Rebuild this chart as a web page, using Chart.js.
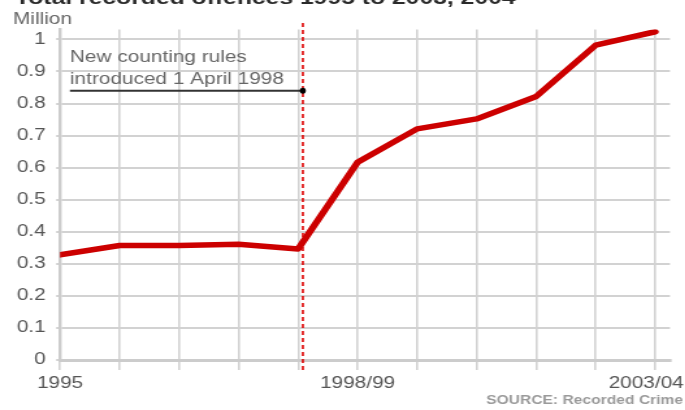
<!DOCTYPE html>
<html>
<head>
<meta charset="utf-8">
<script src="https://cdn.jsdelivr.net/npm/chart.js@4/dist/chart.umd.min.js"></script>
<style>
  html, body { margin: 0; padding: 0; background: #ffffff; overflow: hidden; }
  #wrap { width: 527px; height: 410px; transform: scaleX(1.3); transform-origin: 0 0; }
  canvas { display: block; }
</style>
</head>
<body>
<div id="wrap"><canvas id="c" width="527" height="410"></canvas></div>
<script>
// ---- data ----
const tickLabels = ['1995', '', '', '', '', '1998/99', '', '', '', '', '2003/04'];
const offences = [0.328, 0.357, 0.357, 0.361, 0.346, 0.617, 0.721, 0.752, 0.822, 0.982, 1.024];
const yTickValues = [0, 0.1, 0.2, 0.3, 0.4, 0.5, 0.6, 0.7, 0.8, 0.9, 1];
const titleText = 'Total recorded offences 1995 to 2003, 2004';
const unitText = 'Million';
const noteLines = ['New counting rules', 'introduced 1 April 1998'];
const sourceText = 'SOURCE: Recorded Crime';
const ruleChangeX = 4.08;   // 1 April 1998 on the period axis
const noteY = 0.84;

const FONT = '"Liberation Sans", Arial, Helvetica, sans-serif';
const GRID = '#d2d2d2';
const TEXT = '#555555';

const decor = {
  id: 'decor',
  beforeDatasetsDraw(chart) {
    const ctx = chart.ctx;
    const xs = chart.scales.x;
    const x = xs.getPixelForValue(ruleChangeX);
    ctx.save();
    ctx.strokeStyle = '#dd0000';
    ctx.lineWidth = 1.6;
    ctx.setLineDash([4, 3]);
    ctx.beginPath();
    ctx.moveTo(x, 23);
    ctx.lineTo(x, 372);
    ctx.stroke();
    ctx.restore();
  },
  afterDraw(chart) {
    const ctx = chart.ctx;
    const xs = chart.scales.x, ys = chart.scales.y;
    ctx.save();
    // title (clipped at top like the reference)
    ctx.fillStyle = '#2a2a2a';
    ctx.font = 'bold 19px ' + FONT;
    ctx.textAlign = 'left';
    ctx.textBaseline = 'alphabetic';
    ctx.fillText(titleText, 11.5, 4);
    // unit
    ctx.fillStyle = '#666666';
    ctx.font = '16px ' + FONT;
    ctx.fillText(unitText, 10, 24);
    // note
    ctx.fillText(noteLines[0], 53.8, 62.3);
    ctx.fillText(noteLines[1], 53.8, 84);
    const rx = xs.getPixelForValue(ruleChangeX);
    const ny = ys.getPixelForValue(noteY);
    ctx.strokeStyle = '#333333';
    ctx.lineWidth = 2;
    ctx.beginPath();
    ctx.moveTo(53.8, ny);
    ctx.lineTo(rx, ny);
    ctx.stroke();
    ctx.fillStyle = '#000000';
    ctx.beginPath();
    ctx.ellipse(rx, ny, 3 / 1.3, 3, 0, 0, Math.PI * 2);
    ctx.fill();
    // x tick labels
    ctx.fillStyle = TEXT;
    ctx.font = '16px ' + FONT;
    tickLabels.forEach((lab, i) => {
      if (!lab) return;
      const px = xs.getPixelForValue(i);
      const w = ctx.measureText(lab).width;
      let left = px - w / 2;
      if (left + w > 526) left = 526 - w;
      ctx.fillText(lab, left, 388);
    });
    // source
    ctx.fillStyle = '#9a9a9a';
    ctx.font = 'bold 12px ' + FONT;
    ctx.textAlign = 'right';
    ctx.fillText(sourceText, 525.4, 404);
    ctx.restore();
  }
};

new Chart(document.getElementById('c'), {
  type: 'line',
  data: {
    datasets: [{
      data: offences.map((v, i) => ({ x: i, y: v })),
      borderColor: '#cc0000',
      borderWidth: 5.5,
      borderJoinStyle: 'round',
      borderCapStyle: 'round',
      pointRadius: 0,
      tension: 0,
      fill: false
    }]
  },
  options: {
    responsive: false,
    devicePixelRatio: 1,
    animation: false,
    layout: { padding: { top: 29.5, right: 11.6, left: 0, bottom: 0 } },
    plugins: { legend: { display: false }, tooltip: { enabled: false }, title: { display: false } },
    scales: {
      x: {
        type: 'linear',
        min: 0,
        max: 10.25,
        ticks: { stepSize: 1, display: false, includeBounds: false },
        grid: { color: GRID, lineWidth: 1.6, tickLength: 10, drawTicks: true, tickColor: GRID },
        border: { display: true, color: '#cccccc', width: 3 },
        afterFit(s) { s.height = 50; }
      },
      y: {
        min: 0,
        max: 1.031,
        afterBuildTicks(s) { s.ticks = yTickValues.map(v => ({ value: v })); },
        ticks: {
          includeBounds: false,
          padding: 8,
          color: TEXT,
          font: { family: FONT, size: 16 },
          callback: v => String(+Number(v).toFixed(1))
        },
        grid: { color: GRID, lineWidth: 2, tickLength: 3, tickColor: GRID },
        border: { display: true, color: '#cccccc', width: 2.4 },
        afterFit(s) { s.width = 46.2; }
      }
    }
  },
  plugins: [decor]
});
</script>
</body>
</html>
